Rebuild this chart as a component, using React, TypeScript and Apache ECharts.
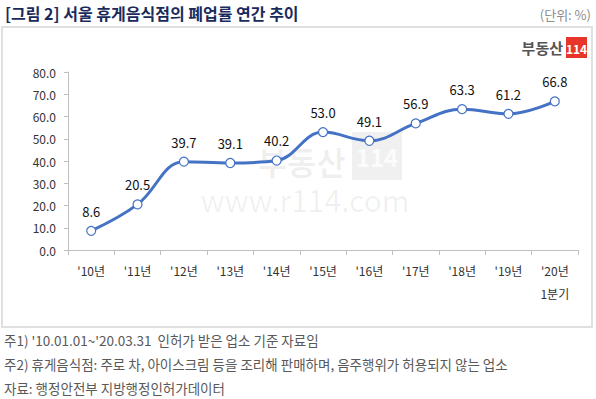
import React, { useEffect, useRef } from "react";
import * as echarts from "echarts";

const categories = ["'10년", "'11년", "'12년", "'13년", "'14년", "'15년", "'16년", "'17년", "'18년", "'19년", "'20년\n1분기"];
const closureRate = [8.6, 20.5, 39.7, 39.1, 40.2, 53.0, 49.1, 56.9, 63.3, 61.2, 66.8];
const titleText = "[그림 2] 서울 휴게음식점의 폐업률 연간 추이";
const unitText = "(단위: %)";
const notes = [
  "주1) '10.01.01~'20.03.31  인허가 받은 업소 기준 자료임",
  "주2) 휴게음식점: 주로 차, 아이스크림 등을 조리해 판매하며, 음주행위가 허용되지 않는 업소",
  "자료: 행정안전부 지방행정인허가데이터",
];

const FONT = "'Noto Sans CJK KR', 'Noto Sans', sans-serif";

export default function App() {
  const ref = useRef<HTMLDivElement>(null);
  useEffect(() => {
    document.body.style.margin = "0";
    const chart = echarts.init(ref.current!, undefined, { renderer: "svg" });
    chart.setOption({
      animation: false,
      backgroundColor: "#ffffff",
      textStyle: { fontFamily: FONT },
      grid: { left: 68, right: 18, top: 72, bottom: 149 },
      xAxis: {
        type: "category",
        data: categories,
        boundaryGap: true,
        axisLine: { lineStyle: { color: "#BFBFBF", width: 1 } },
        axisTick: { show: true, length: 5, lineStyle: { color: "#BFBFBF" } },
        axisLabel: { color: "#333", fontSize: 12, fontFamily: FONT, margin: 9, lineHeight: 23 },
      },
      yAxis: {
        type: "value",
        min: 0,
        max: 80,
        interval: 10,
        axisLine: { show: true, lineStyle: { color: "#BFBFBF", width: 1 } },
        axisTick: { show: true, length: 4, lineStyle: { color: "#BFBFBF" } },
        splitLine: { show: false },
        axisLabel: { color: "#333", fontSize: 12, fontFamily: FONT, margin: 12, formatter: (v: number) => v.toFixed(1) },
      },
      series: [
        {
          type: "line",
          data: closureRate,
          smooth: 0.4,
          symbol: "circle",
          symbolSize: 9,
          lineStyle: { color: "#4472C4", width: 3 },
          itemStyle: { color: "#ffffff", borderColor: "#4472C4", borderWidth: 1.2 },
          label: {
            show: true,
            position: "top",
            distance: 8,
            color: "#111",
            fontSize: 13,
            fontFamily: FONT,
            formatter: (p: any) => Number(p.value).toFixed(1),
          },
          z: 5,
        },
      ],
      graphic: [
        { type: "rect", shape: { x: 2, y: 27, width: 590, height: 300 }, style: { fill: "none", stroke: "#E0E0E0", lineWidth: 2 }, z: -1 },
        { type: "text", x: 5, y: 13, style: { text: titleText, font: `bold 16px ${FONT}`, fill: "#1B2A5C", textVerticalAlign: "middle" } },
        { type: "text", x: 591, y: 14, style: { text: unitText, font: `13px ${FONT}`, fill: "#8C8C8C", textAlign: "right", textVerticalAlign: "middle" } },
        // logo
        { type: "text", x: 563, y: 47, style: { text: "부동산", font: `bold 15px ${FONT}`, fill: "#555", textAlign: "right", textVerticalAlign: "middle" } },
        { type: "rect", shape: { x: 566, y: 37, width: 21, height: 21 }, style: { fill: "#E8352A" } },
        { type: "text", x: 576.5, y: 48, style: { text: "114", font: `bold 12px ${FONT}`, fill: "#fff", textAlign: "center", textVerticalAlign: "middle" } },
        // watermark
        { type: "text", x: 346, y: 161, style: { text: "부동산", font: `bold 32px ${FONT}`, lineHeight: 26, fill: "rgba(0,0,0,0.06)", textAlign: "right", textVerticalAlign: "middle" }, z: -1 },
        { type: "rect", shape: { x: 352, y: 132, width: 50, height: 48 }, style: { fill: "rgba(0,0,0,0.06)" }, z: -1 },
        { type: "text", x: 377, y: 156, style: { text: "114", font: `bold 24px ${FONT}`, fill: "rgba(255,255,255,0.8)", textAlign: "center", textVerticalAlign: "middle" }, z: -1 },
        { type: "text", x: 305, y: 199, style: { text: "www.r114.com", font: `30px ${FONT}`, lineHeight: 24, fill: "rgba(0,0,0,0.06)", textAlign: "center", textVerticalAlign: "middle" }, z: -1 },
        ...notes.map((t, i) => ({
          type: "text",
          x: 4,
          y: 340 + i * 24,
          style: { text: t, font: `13.5px ${FONT}`, fill: "#595959", textVerticalAlign: "middle" },
        })),
      ],
    });
    return () => chart.dispose();
  }, []);
  return <div ref={ref} style={{ position: "absolute", left: 0, top: 0, width: 596, height: 399 }} />;
}
